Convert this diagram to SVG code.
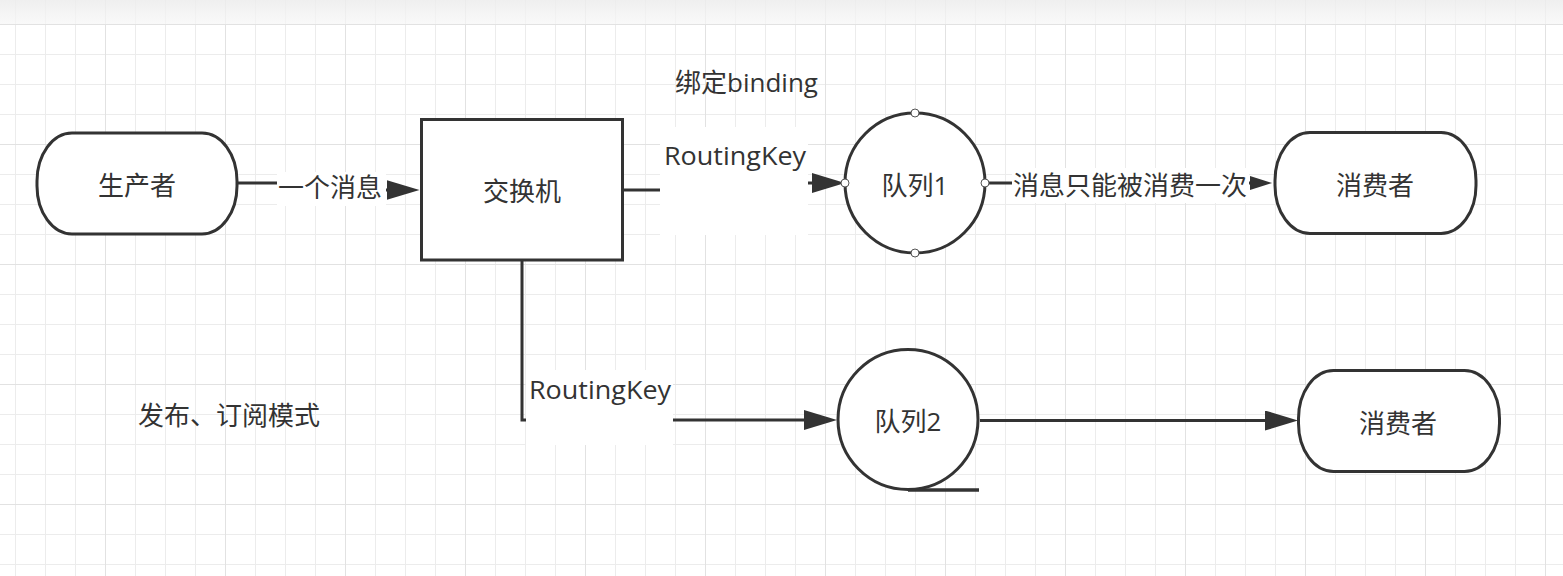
<svg xmlns="http://www.w3.org/2000/svg" width="1563" height="576" viewBox="0 0 1563 576">
  <style>
    .node { fill: #ffffff; stroke: #333333; stroke-width: 3; }
    .conn { fill: none; stroke: #333333; stroke-width: 3; }
    .lbl { font-family: "Open Sans", "Noto Sans CJK SC", sans-serif; font-size: 26px; fill: #333333; }
    .mid { text-anchor: middle; }
    .lblbg { fill: #ffffff; }
    .handle { fill: #ffffff; stroke: #555555; stroke-width: 1; }
  </style>
  <defs>
    <pattern id="gridMinor" x="15" y="24" width="30" height="30" patternUnits="userSpaceOnUse">
      <path d="M0 0.5 H30 M0.5 0 V30" fill="none" stroke="#ececec" stroke-width="1"/>
    </pattern>
    <pattern id="gridMajor" x="105" y="24" width="120" height="120" patternUnits="userSpaceOnUse">
      <path d="M0 0.5 H120 M0.5 0 V120" fill="none" stroke="#e2e2e2" stroke-width="1"/>
    </pattern>
    <linearGradient id="band" x1="0" y1="0" x2="0" y2="1">
      <stop offset="0" stop-color="#ececec" stop-opacity="0.85"/>
      <stop offset="1" stop-color="#f6f6f6" stop-opacity="0.7"/>
    </linearGradient>
    <marker id="arrowBig" markerUnits="userSpaceOnUse" markerWidth="34" markerHeight="22" refX="23" refY="10" orient="auto">
      <path d="M0 0 L33 10 L0 20 Z" fill="#333333"/>
    </marker>
    <marker id="arrowSmall" markerUnits="userSpaceOnUse" markerWidth="24" markerHeight="16" refX="12" refY="7" orient="auto">
      <path d="M0 0 L22 7 L0 14 Z" fill="#333333"/>
    </marker>
  </defs>

  <!-- background & grid -->
  <rect x="0" y="0" width="1563" height="576" fill="#ffffff"/>
  <rect x="0" y="0" width="1563" height="576" fill="url(#gridMinor)"/>
  <rect x="0" y="0" width="1563" height="576" fill="url(#gridMajor)"/>
  <rect x="0" y="0" width="1563" height="24" fill="url(#band)"/>
  <line x1="0" y1="24.5" x2="1563" y2="24.5" stroke="#e2e2e2" stroke-width="1"/>

  <!-- connectors -->
  <g id="connectors">
    <path class="conn" d="M238 183 H330 V190 H409.5" marker-end="url(#arrowBig)"/>
    <path class="conn" d="M623 190 H735 V183 H835" marker-end="url(#arrowBig)"/>
    <path class="conn" d="M985 183 H1262" marker-end="url(#arrowSmall)"/>
    <path class="conn" d="M522 260 V420 H827" marker-end="url(#arrowBig)"/>
    <path class="conn" d="M980 420.5 H1288" marker-end="url(#arrowBig)"/>

    <!-- labels -->
    <rect class="lblbg" x="277" y="172" width="109" height="34"/>
    <text class="lbl" x="278" y="197">一个消息</text>

    <rect class="lblbg" x="660" y="127" width="148" height="108"/>
    <text class="lbl" x="664" y="165" textLength="142" lengthAdjust="spacingAndGlyphs">RoutingKey</text>

    <rect class="lblbg" x="1012" y="168" width="237" height="35"/>
    <text class="lbl" x="1013" y="195">消息只能被消费一次</text>

    <rect class="lblbg" x="526" y="370" width="147" height="75"/>
    <text class="lbl" x="529" y="399" textLength="142" lengthAdjust="spacingAndGlyphs">RoutingKey</text>
  </g>

  <!-- nodes -->
  <g id="producer">
    <rect class="node" x="37" y="133" width="200" height="101" rx="35" ry="48"/>
    <text class="lbl mid" x="137" y="195">生产者</text>
  </g>

  <g id="exchange">
    <rect class="node" x="421.5" y="119.5" width="201" height="140.5"/>
    <text class="lbl mid" x="522" y="201">交换机</text>
  </g>

  <g id="queue1">
    <circle class="node" cx="915" cy="183" r="70"/>
    <text class="lbl mid" x="915" y="195">队列1</text>
    <circle class="handle" cx="915" cy="113" r="4"/>
    <circle class="handle" cx="915" cy="253" r="4"/>
    <circle class="handle" cx="845" cy="183" r="4"/>
    <circle class="handle" cx="985" cy="183" r="4"/>
  </g>

  <g id="consumer1">
    <rect class="node" x="1275" y="132.5" width="201" height="101" rx="35" ry="48"/>
    <text class="lbl mid" x="1375" y="195">消费者</text>
  </g>

  <g id="queue2">
    <circle class="node" cx="908" cy="419.5" r="70"/>
    <line x1="908" y1="490" x2="979" y2="490" stroke="#333333" stroke-width="3.5"/>
    <text class="lbl mid" x="908" y="431">队列2</text>
  </g>

  <g id="consumer2">
    <rect class="node" x="1298.5" y="370.5" width="201" height="101" rx="35" ry="48"/>
    <text class="lbl mid" x="1398" y="433">消费者</text>
  </g>

  <g id="binding-label">
    <text class="lbl" x="675" y="92">绑定binding</text>
  </g>

  <g id="title">
    <text class="lbl" x="138" y="425">发布、订阅模式</text>
  </g>
</svg>
